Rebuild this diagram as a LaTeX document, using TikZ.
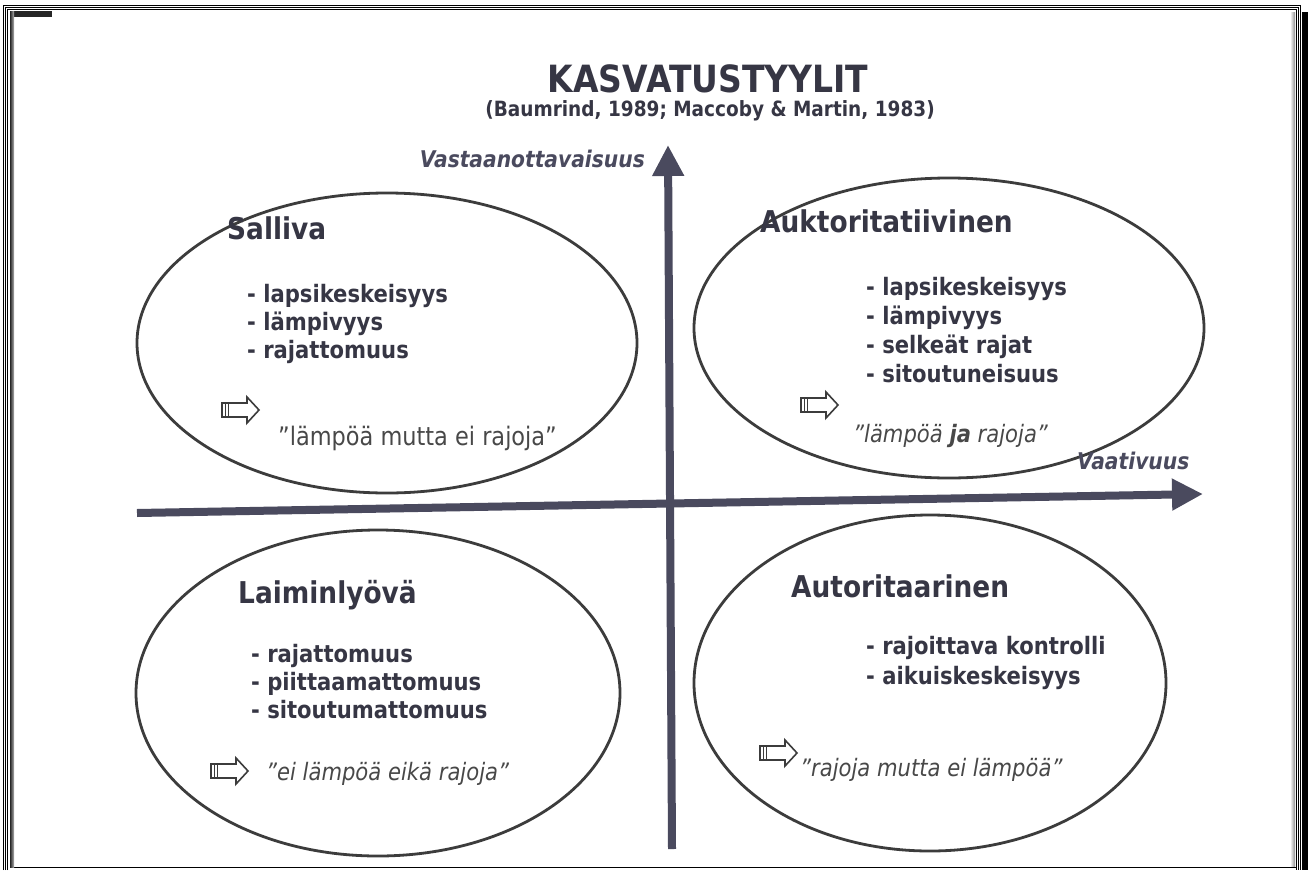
\documentclass[tikz,border=0pt]{standalone}
\usepackage{fontspec}
\setmainfont{DejaVu Sans}[FakeStretch=0.88]
\usetikzlibrary{shapes.geometric,arrows.meta}
\definecolor{ink}{HTML}{363644}
\definecolor{axisc}{HTML}{4A4A5E}
\definecolor{rim}{HTML}{3C3C3C}
\definecolor{mottoc}{HTML}{484848}
\begin{document}
\begin{tikzpicture}[x=1pt,y=-1pt,
  field/.style={draw=rim, line width=2.8pt, ellipse, inner sep=0pt},
  heading/.style={font=\fontsize{30}{34}\selectfont\bfseries, text=ink, anchor=base west, inner sep=0pt},
  item/.style={font=\fontsize{24}{28}\selectfont\bfseries, text=ink, anchor=base west, inner sep=0pt},
  motto/.style={font=\fontsize{24}{28}\selectfont\itshape, text=mottoc, anchor=base west, inner sep=0pt},
  axislabel/.style={font=\fontsize{23}{27}\selectfont\bfseries\itshape, text=axisc, inner sep=0pt},
  axis/.style={draw=axisc, line width=8pt, -{Triangle[length=31pt,width=30pt]}},
  frameline/.style={draw=black, line width=0.9pt},
  hollowarrow/.pic={
    \draw[draw=rim, line width=1.6pt, fill=white, line join=miter]
      (0,-7) -- (25,-7) -- (25,-13) -- (37,0) -- (25,13) -- (25,7) -- (0,7) -- cycle;
    \draw[draw=rim, line width=1pt] (3.5,-7) -- (3.5,7) (6.5,-7) -- (6.5,7);
  }
]
\useasboundingbox (0,0) rectangle (1308,870);
\fill[white] (0,0) rectangle (1308,870);

% page frame
\draw[frameline] (3,870) -- (3,5) -- (1300,5) -- (1300,870);
\draw[frameline] (5,870) -- (5,7) -- (1298,7) -- (1298,870);
\draw[frameline] (7,870) -- (7,9) -- (1296,9) -- (1296,870);
\draw[frameline] (10,867) -- (1296,867);
\fill[black!85] (10,11) rectangle (52,17);
\shade[left color=black!85, right color=black!30] (10,11) rectangle (14,867);
\fill[black] (1302,12) rectangle (1308,870);
\shade[left color=white, right color=black!45] (1290,12) rectangle (1295,866);

% title
\node[font=\fontsize{37.5}{40}\selectfont\bfseries, text=ink, anchor=base, inner sep=0pt] (title) at (708,92) {KASVATUSTYYLIT};
\node[font=\fontsize{21}{24}\selectfont\bfseries, text=ink, anchor=base, inner sep=0pt] (source) at (710,116) {(Baumrind, 1989; Maccoby \& Martin, 1983)};

% four parenting styles
\node[field, minimum width=500pt, minimum height=300pt] (salliva) at (387,343) {};
\node[field, minimum width=510pt, minimum height=300pt] (auktor) at (949,328) {};
\node[field, minimum width=484pt, minimum height=326pt] (laimin) at (378,693) {};
\node[field, minimum width=472pt, minimum height=336pt] (autorit) at (930,683) {};

% axes
\coordinate (xstart) at (137,513);
\coordinate (xend) at (1203,494);
\coordinate (ystart) at (672,849);
\coordinate (yend) at (668,145);
\draw[axis] (xstart) -- (xend);
\draw[axis] (ystart) -- (yend);
\node[axislabel, anchor=base east] (ylabel) at (645,167) {Vastaanottavaisuus};
\node[axislabel, anchor=base west] (xlabel) at (1077,469) {Vaativuus};

% Salliva
\node[heading] (sh) at (227,239) {Salliva};
\node[item] (s1) at (247,302) {- lapsikeskeisyys};
\node[item] (s2) at (247,330) {- lämpivyys};
\node[item] (s3) at (247,358) {- rajattomuus};
\pic at (222,410) {hollowarrow};
\node[motto, font=\fontsize{25.5}{28}\selectfont\upshape] (sm) at (278,445) {”lämpöä mutta ei rajoja”};

% Auktoritatiivinen
\node[heading] (ah) at (760,232) {Auktoritatiivinen};
\node[item] (a1) at (866,295) {- lapsikeskeisyys};
\node[item] (a2) at (866,324) {- lämpivyys};
\node[item] (a3) at (866,353) {- selkeät rajat};
\node[item] (a4) at (866,382) {- sitoutuneisuus};
\pic at (801,405) {hollowarrow};
\node[motto] (am) at (853,442) {”lämpöä \textbf{ja} rajoja”};

% Laiminlyövä
\node[heading] (lh) at (238,603) {Laiminlyövä};
\node[item] (l1) at (251,662) {- rajattomuus};
\node[item] (l2) at (251,690) {- piittaamattomuus};
\node[item] (l3) at (251,718) {- sitoutumattomuus};
\pic at (211,771) {hollowarrow};
\node[motto] (lm) at (266,780) {”ei lämpöä eikä rajoja”};

% Autoritaarinen
\node[heading] (th) at (791,597) {Autoritaarinen};
\node[item] (t1) at (866,654) {- rajoittava kontrolli};
\node[item] (t2) at (866,684) {- aikuiskeskeisyys};
\pic at (760,753) {hollowarrow};
\node[motto] (tm) at (800,776) {”rajoja mutta ei lämpöä”};
\end{tikzpicture}
\end{document}
